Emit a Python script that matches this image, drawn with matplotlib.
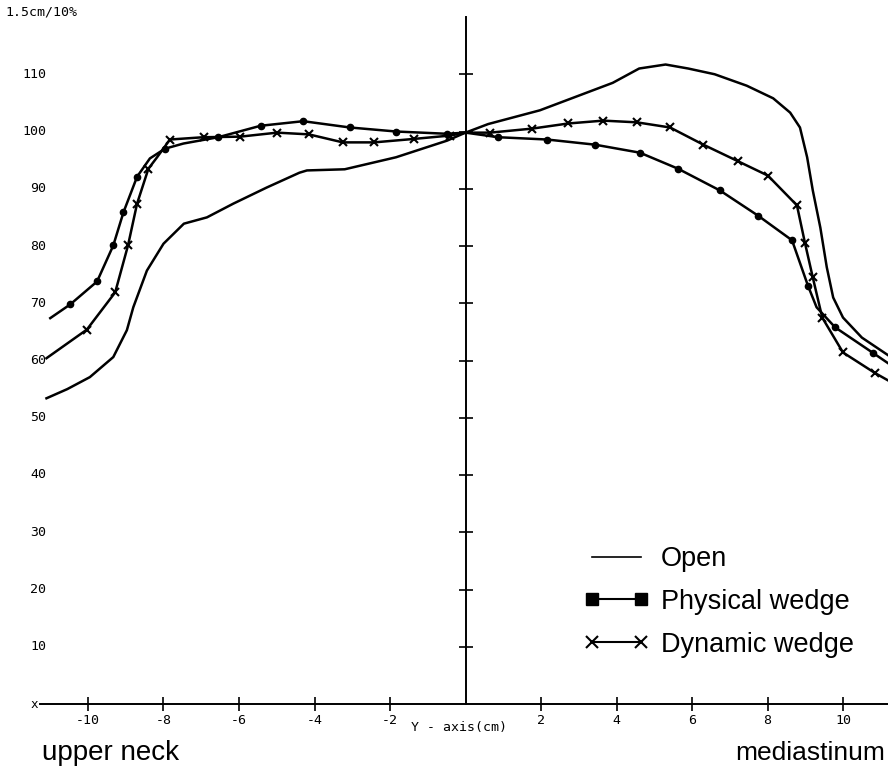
import matplotlib.pyplot as plt
from matplotlib.lines import Line2D
import matplotlib.transforms as mtransforms

# relative dose profiles along Y axis
open_x = [-11.1, -10.55, -9.95, -9.33, -8.97, -8.8, -8.44, -8.0, -7.46, -6.85,
          -6.15, -5.27, -4.4, -4.2, -3.2, -1.84, -0.49, 0.0, 0.6, 1.97, 3.9,
          4.6, 5.3, 5.9, 6.6, 7.45, 8.15, 8.6, 8.86, 9.05, 9.2, 9.4, 9.57,
          9.74, 10.0, 10.5, 11.2]
open_y = [53.4, 55.0, 57.1, 60.6, 65.3, 69.3, 75.7, 80.4, 83.9, 85.0,
          87.4, 90.2, 92.8, 93.2, 93.4, 95.5, 98.4, 99.8, 101.3, 103.7, 108.5,
          111.0, 111.7, 111.0, 110.0, 108.0, 105.8, 103.3, 100.7, 95.5, 89.7, 83.2, 76.3,
          71.0, 67.5, 64.0, 60.9]

phys_x = [-11.0, -10.47, -9.76, -9.33, -9.06, -8.7, -8.36, -7.96, -7.47, -6.55,
          -5.43, -4.3, -3.06, -1.84, -0.49, 0.0, 0.87, 2.16, 3.43, 4.62,
          5.63, 6.74, 7.75, 8.65, 9.07, 9.3, 9.79, 10.8, 11.2]
phys_y = [67.4, 69.8, 73.8, 80.1, 85.9, 92.1, 95.3, 97.0, 97.9, 99.0,
          101.0, 101.8, 100.7, 100.0, 99.6, 99.8, 99.0, 98.6, 97.7, 96.3,
          93.5, 89.7, 85.3, 81.0, 73.1, 69.3, 65.8, 61.3, 59.5]
phys_marks = [1, 2, 3, 4, 5, 7, 9, 10, 11, 12, 13, 14, 16, 17, 18, 19,
              20, 21, 22, 23, 24, 26, 27]

dyn_x = [-11.1, -10.03, -9.28, -8.94, -8.7, -8.4, -8.17, -7.83, -6.94, -5.97,
         -4.99, -4.15, -3.25, -2.42, -1.37, -0.4, 0.0, 0.65, 1.76, 2.72,
         3.65, 4.54, 5.42, 6.3, 7.22, 8.01, 8.78, 8.99, 9.2, 9.45,
         10.0, 10.85, 11.2]
dyn_y = [60.4, 65.4, 71.9, 80.1, 87.4, 93.5, 95.5, 98.6, 99.0, 99.1,
         99.8, 99.5, 98.1, 98.1, 98.7, 99.3, 99.8, 99.8, 100.5, 101.4,
         101.9, 101.6, 100.7, 97.7, 94.8, 92.3, 87.1, 80.6, 74.5, 67.5,
         61.4, 57.8, 56.5]
dyn_marks = [1, 2, 3, 4, 5, 7, 8, 9, 10, 11, 12, 13, 14, 15, 17, 18, 19,
             20, 21, 22, 23, 24, 25, 26, 27, 28, 29, 30, 31]

x_ticks = [-10, -8, -6, -4, -2, 2, 4, 6, 8, 10]
y_ticks = [10, 20, 30, 40, 50, 60, 70, 80, 90, 100, 110]
labels = ["Open", "Physical wedge", "Dynamic wedge"]

W, H = 888, 783
fig = plt.figure(figsize=(W / 100, H / 100), dpi=100)
# axes box in pixels: x from 40 to 888, y=0 at 704, y=120 at 17
ax = fig.add_axes([40 / W, (H - 704) / H, (W - 40) / W, 687 / H])
ax.set_xlim((40 - 465.5) / 37.75, (888 - 465.5) / 37.75)
ax.set_ylim(0, 120)

for s in ["top", "right"]:
    ax.spines[s].set_visible(False)
ax.spines["left"].set_position(("data", 0))
ax.spines["bottom"].set_position(("data", 0))
ax.spines["left"].set_linewidth(1.4)
ax.spines["bottom"].set_linewidth(1.4)
ax.spines["left"].set_bounds(0, 120)

mono = "DejaVu Sans Mono"
ax.set_xticks(x_ticks)
ax.set_xticklabels([str(t) for t in x_ticks], fontfamily=mono, fontsize=9.5)
ax.set_yticks(y_ticks)
ax.set_yticklabels([])
ax.tick_params(axis="both", direction="inout", length=10, width=1.2, pad=2)

# y tick labels sit at the left edge of the page
trans = mtransforms.blended_transform_factory(fig.transFigure, ax.transData)
for t in y_ticks:
    ax.text(46 / W, t, str(t), transform=trans, ha="right", va="center",
            fontfamily=mono, fontsize=9.5)
ax.text(38 / W, 0, "x", transform=trans, ha="right", va="center",
        fontfamily=mono, fontsize=9)
fig.text(5 / W, 1 - 12 / H, "1.5cm/10%", ha="left", va="center",
         fontfamily=mono, fontsize=9.5)
fig.text(459 / W, 1 - 727 / H, "Y - axis(cm)", ha="center", va="center",
         fontfamily=mono, fontsize=9.5)

ax.plot(open_x, open_y, color="black", lw=1.8, clip_on=False)
ax.plot(phys_x, phys_y, color="black", lw=1.8, marker="o", ms=4.5,
        markevery=phys_marks, clip_on=False)
ax.plot(dyn_x, dyn_y, color="black", lw=1.8, marker="x", ms=6, mew=1.5,
        markevery=dyn_marks, clip_on=False)

handles = [
    Line2D([], [], color="black", lw=1.2),
    Line2D([], [], color="black", lw=1.5, marker="s", ms=8),
    Line2D([], [], color="black", lw=1.5, marker="x", ms=9, mew=1.5),
]
font = "Liberation Sans"
fig.legend(handles, labels, loc="upper left",
           bbox_to_anchor=(584 / W, 1 - 546 / H), frameon=False,
           numpoints=2, handlelength=2.4, handletextpad=0.45,
           labelspacing=0.62, borderpad=0, borderaxespad=0,
           prop={"family": font, "size": 19.5})

fig.text(42 / W, 1 - 753 / H, "upper neck", ha="left", va="center",
         fontfamily=font, fontsize=20)
fig.text(885 / W, 1 - 753 / H, "mediastinum", ha="right", va="center",
         fontfamily=font, fontsize=19)

fig.savefig("out.png", dpi=100)
